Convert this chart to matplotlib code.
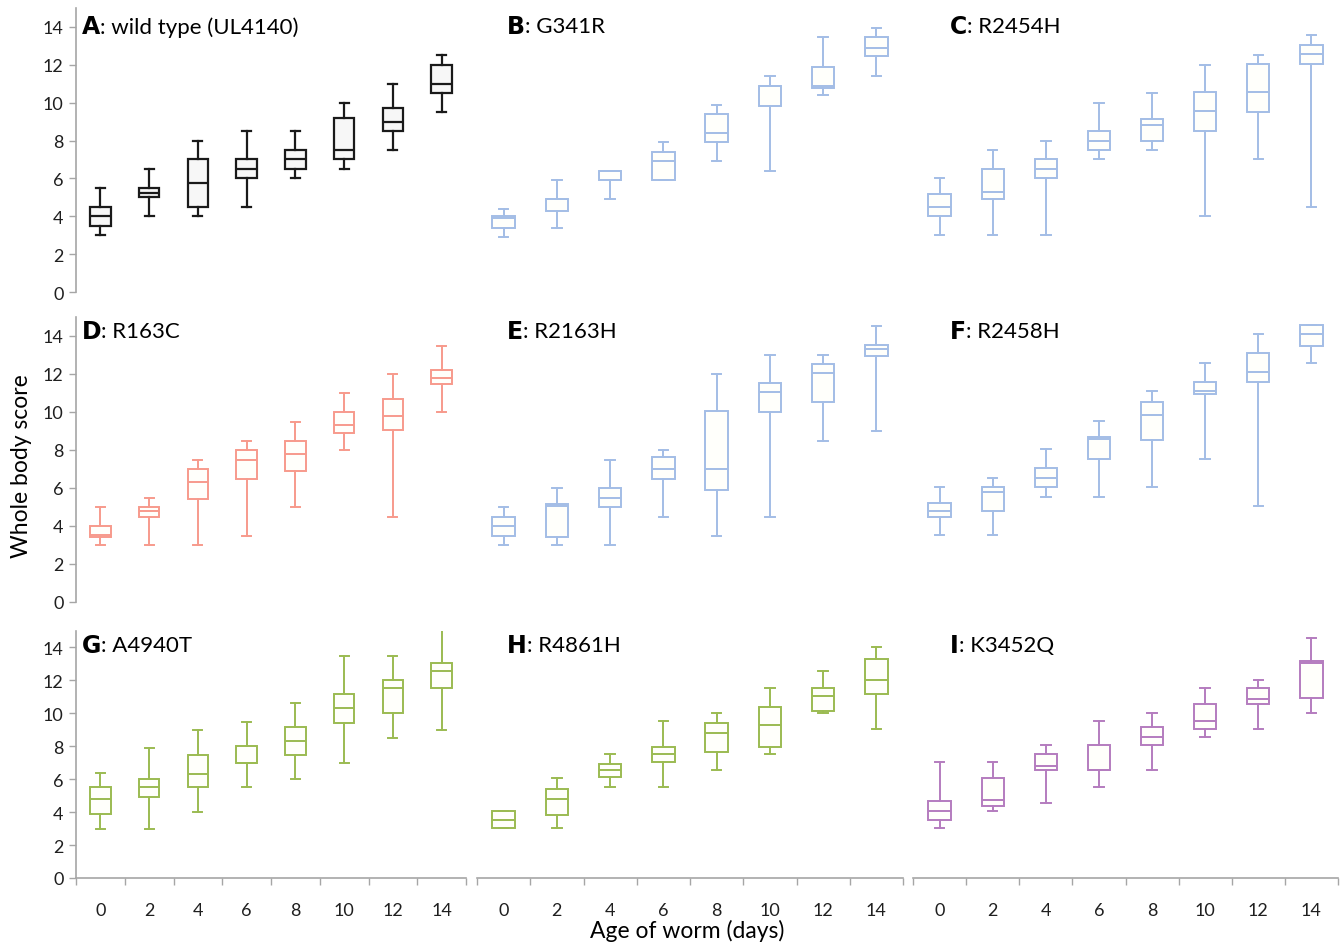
import matplotlib
matplotlib.use("Agg")
import matplotlib.pyplot as plt
from matplotlib.ticker import FixedLocator

plt.rcParams['font.family'] = ['Lato', 'DejaVu Sans']

days = [0, 2, 4, 6, 8, 10, 12, 14]
yticks = [0, 2, 4, 6, 8, 10, 12, 14]

letters = ["A", "B", "C", "D", "E", "F", "G", "H", "I"]
names = ["wild type (UL4140)", "G341R", "R2454H", "R163C", "R2163H",
         "R2458H", "A4940T", "R4861H", "K3452Q"]

# whisker low, Q1, median, Q3, whisker high per day
A_lo = [3.0, 4.0, 4.0, 4.5, 6.0, 6.5, 7.5, 9.5]
A_q1 = [3.5, 5.0, 4.5, 6.0, 6.5, 7.0, 8.5, 10.5]
A_md = [4.0, 5.25, 5.75, 6.5, 7.0, 7.5, 9.0, 11.0]
A_q3 = [4.5, 5.5, 7.0, 7.0, 7.5, 9.2, 9.7, 12.0]
A_hi = [5.5, 6.5, 8.0, 8.5, 8.5, 10.0, 11.0, 12.5]

B_lo = [2.9, 3.4, 4.9, 5.9, 6.9, 6.4, 10.4, 11.4]
B_q1 = [3.4, 4.3, 5.9, 5.9, 7.9, 9.8, 10.8, 12.45]
B_md = [3.9, 4.9, 6.4, 6.9, 8.4, 10.9, 10.9, 12.9]
B_q3 = [4.0, 4.9, 6.4, 7.4, 9.4, 10.9, 11.9, 13.45]
B_hi = [4.4, 5.9, 6.4, 7.9, 9.9, 11.4, 13.45, 13.95]

C_lo = [3.0, 3.0, 3.0, 7.0, 7.5, 4.0, 7.0, 4.5]
C_q1 = [4.0, 4.9, 6.0, 7.5, 8.0, 8.5, 9.5, 12.05]
C_md = [4.5, 5.3, 6.5, 8.0, 8.8, 9.55, 10.55, 12.55]
C_q3 = [5.15, 6.5, 7.0, 8.5, 9.15, 10.55, 12.05, 13.05]
C_hi = [6.0, 7.5, 8.0, 10.0, 10.5, 12.0, 12.5, 13.55]

D_lo = [3.0, 3.0, 3.0, 3.5, 5.0, 8.0, 4.5, 10.0]
D_q1 = [3.4, 4.5, 5.4, 6.5, 6.9, 8.9, 9.05, 11.45]
D_md = [3.55, 4.8, 6.3, 7.5, 7.8, 9.3, 9.8, 11.8]
D_q3 = [4.0, 5.0, 7.0, 8.0, 8.5, 10.0, 10.7, 12.2]
D_hi = [5.0, 5.5, 7.5, 8.5, 9.5, 11.0, 12.0, 13.5]

E_lo = [3.0, 3.0, 3.0, 4.5, 3.5, 4.5, 8.5, 9.0]
E_q1 = [3.5, 3.4, 5.0, 6.5, 5.9, 10.0, 10.55, 12.95]
E_md = [4.0, 5.05, 5.5, 7.0, 7.0, 11.05, 12.05, 13.3]
E_q3 = [4.5, 5.15, 6.0, 7.65, 10.05, 11.55, 12.55, 13.55]
E_hi = [5.0, 6.0, 7.5, 8.0, 12.0, 13.0, 13.0, 14.55]

F_lo = [3.55, 3.55, 5.55, 5.55, 6.05, 7.55, 5.05, 12.6]
F_q1 = [4.45, 4.8, 6.05, 7.55, 8.55, 10.95, 11.6, 13.5]
F_md = [4.8, 5.8, 6.55, 8.6, 9.85, 11.1, 12.1, 14.1]
F_q3 = [5.2, 6.05, 7.05, 8.7, 10.55, 11.6, 13.1, 14.6]
F_hi = [6.05, 6.55, 8.05, 9.55, 11.1, 12.6, 14.1, 14.6]

G_lo = [3.0, 3.0, 4.0, 5.5, 6.0, 7.0, 8.5, 9.0]
G_q1 = [3.9, 4.9, 5.5, 7.0, 7.5, 9.4, 10.0, 11.55]
G_md = [4.8, 5.55, 6.3, 7.0, 8.3, 10.3, 11.55, 12.55]
G_q3 = [5.5, 6.0, 7.5, 8.0, 9.15, 11.15, 12.0, 13.05]
G_hi = [6.4, 7.9, 9.0, 9.5, 10.65, 13.5, 13.5, 15.3]

H_lo = [3.05, 3.05, 5.55, 5.55, 6.55, 7.55, 10.05, 9.05]
H_q1 = [3.05, 3.8, 6.15, 7.05, 7.65, 7.95, 10.15, 11.15]
H_md = [3.55, 4.8, 6.55, 7.55, 8.8, 9.3, 11.05, 12.05]
H_q3 = [4.05, 5.4, 6.9, 7.95, 9.4, 10.4, 11.55, 13.3]
H_hi = [4.05, 6.05, 7.55, 9.55, 10.05, 11.55, 12.55, 14.05]

I_lo = [3.05, 4.05, 4.55, 5.55, 6.55, 8.55, 9.05, 10.05]
I_q1 = [3.55, 4.4, 6.55, 6.55, 8.05, 9.05, 10.55, 10.95]
I_md = [4.05, 4.75, 6.8, 6.55, 8.55, 9.55, 10.85, 13.05]
I_q3 = [4.65, 6.05, 7.55, 8.05, 9.15, 10.55, 11.55, 13.2]
I_hi = [7.05, 7.05, 8.05, 9.55, 10.05, 11.55, 12.05, 14.55]

panel_data = [
    (A_lo, A_q1, A_md, A_q3, A_hi), (B_lo, B_q1, B_md, B_q3, B_hi),
    (C_lo, C_q1, C_md, C_q3, C_hi), (D_lo, D_q1, D_md, D_q3, D_hi),
    (E_lo, E_q1, E_md, E_q3, E_hi), (F_lo, F_q1, F_md, F_q3, F_hi),
    (G_lo, G_q1, G_md, G_q3, G_hi), (H_lo, H_q1, H_md, H_q3, H_hi),
    (I_lo, I_q1, I_md, I_q3, I_hi),
]

BLACK = "#1a1a1a"
BLUE = "#a3bde6"
SALMON = "#f79a8c"
GREEN = "#9bbb52"
PURPLE = "#b47cbf"
colors = [BLACK, BLUE, BLUE, SALMON, BLUE, BLUE, GREEN, GREEN, PURPLE]
fills = ["#f7f7f7", "#fffffb", "#fffffb", "#fffffb", "#fffffb", "#fffffb",
         "#fffffb", "#fffffb", "#fffffb"]
lws = [1.6, 1.4, 1.4, 1.4, 1.4, 1.4, 1.4, 1.4, 1.4]

W, H = 1340, 945
fig = plt.figure(figsize=(W / 100, H / 100), dpi=100)

col_px = [(76, 466), (477, 903), (913, 1338)]
row_px = [(9, 293), (318, 603), (632, 879)]
title_x = [0.015, 0.07, 0.087]
title_y = [0.935, 0.95, 0.945]
SPINE = "#a6a6a6"
TICKC = "#1f1f1f"

for idx in range(9):
    r, c = divmod(idx, 3)
    x0, x1 = col_px[c]
    y0, y1 = row_px[r]
    ax = fig.add_axes([x0 / W, 1 - y1 / H, (x1 - x0) / W, (y1 - y0) / H])
    lo, q1, md, q3, hi = panel_data[idx]
    stats = [dict(whislo=lo[i], q1=q1[i], med=md[i], q3=q3[i], whishi=hi[i],
                  label=str(days[i])) for i in range(len(days))]
    col = colors[idx]
    lw = lws[idx]
    ax.bxp(stats, positions=range(len(days)), widths=0.42, capwidths=0.18,
           showfliers=False, patch_artist=True,
           boxprops=dict(facecolor=fills[idx], edgecolor=col, linewidth=lw),
           medianprops=dict(color=col, linewidth=lw),
           whiskerprops=dict(color=col, linewidth=lw),
           capprops=dict(color=col, linewidth=lw))
    ax.set_xlim(-0.5, len(days) - 0.5)
    ax.set_ylim(0, 15)
    for s in ("top", "right"):
        ax.spines[s].set_visible(False)
    # y axis
    if c == 0:
        ax.spines["left"].set_color(SPINE)
        ax.spines["left"].set_linewidth(1.2)
        ax.set_yticks(yticks)
        ax.set_yticklabels([str(v) for v in yticks], fontsize=13, color=TICKC)
        ax.tick_params(axis="y", length=5, width=1.0, color=SPINE, pad=4)
    else:
        ax.spines["left"].set_visible(False)
        ax.set_yticks([])
    # x axis
    if r == 2:
        ax.spines["bottom"].set_color(SPINE)
        ax.spines["bottom"].set_linewidth(1.2)
        ax.set_xticks(range(len(days)))
        ax.set_xticklabels([str(d) for d in days], fontsize=13, color=TICKC)
        ax.xaxis.set_minor_locator(FixedLocator([i - 0.5 for i in range(len(days) + 1)]))
        ax.tick_params(axis="x", which="major", length=0, pad=17)
        ax.tick_params(axis="x", which="minor", length=5, width=1.0, color=SPINE)
    else:
        ax.spines["bottom"].set_visible(False)
        ax.set_xticks([])
    ax.set_facecolor("none")
    # panel title
    lt = ax.text(title_x[c], title_y[r], letters[idx], transform=ax.transAxes,
                 fontsize=17, fontweight="heavy", family=["DejaVu Sans"],
                 va="center", ha="left", color="black")
    ax.annotate(": " + names[idx], xy=(1.0, 0.5), xycoords=lt,
                va="center", ha="left", fontsize=16, color="black")

fig.text(22 / W, 1 - 466 / H, "Whole body score", rotation=90,
         ha="center", va="center", fontsize=16.5)
fig.text(687 / W, 1 - 931 / H, "Age of worm (days)", ha="center", va="center",
         fontsize=16.5)

fig.savefig("out.png", dpi=100, facecolor="white")
